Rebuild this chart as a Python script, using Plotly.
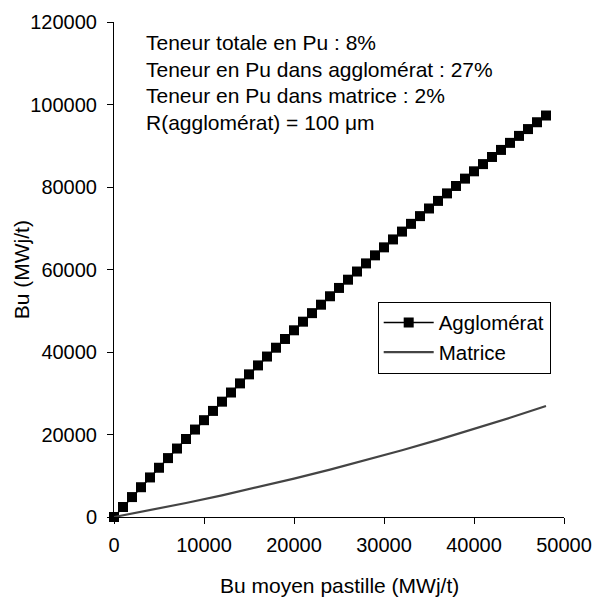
import plotly.graph_objects as go

# Data
bu_moyen_aggl = [0, 1000, 2000, 3000, 4000, 5000, 6000, 7000, 8000, 9000,
                 10000, 11000, 12000, 13000, 14000, 15000, 16000, 17000, 18000, 19000,
                 20000, 21000, 22000, 23000, 24000, 25000, 26000, 27000, 28000, 29000,
                 30000, 31000, 32000, 33000, 34000, 35000, 36000, 37000, 38000, 39000,
                 40000, 41000, 42000, 43000, 44000, 45000, 46000, 47000, 48000]
bu_agglomerat = [0, 2420, 4830, 7220, 9590, 11940, 14280, 16600, 18910, 21200,
                 23470, 25720, 27960, 30180, 32390, 34580, 36750, 38900, 41040, 43160,
                 45260, 47350, 49420, 51470, 53510, 55530, 57530, 59510, 61480, 63430,
                 65370, 67290, 69190, 71070, 72940, 74790, 76630, 78450, 80250, 82030,
                 83800, 85550, 87280, 88990, 90700, 92390, 94040, 95700, 97330]

bu_moyen_matr = [0, 4000, 8000, 12000, 16000, 20000, 24000, 28000, 32000,
                 36000, 40000, 44000, 48000]
bu_matrice = [0, 1640, 3390, 5250, 7220, 9300, 11490, 13780, 16190,
              18700, 21320, 24060, 26900]

x_ticks = [0, 10000, 20000, 30000, 40000, 50000]
y_ticks = [0, 20000, 40000, 60000, 80000, 100000, 120000]

x_title = "Bu moyen pastille (MWj/t)"
y_title = "Bu (MWj/t)"
info_lines = ["Teneur totale en Pu : 8%",
              "Teneur en Pu dans agglomérat : 27%",
              "Teneur en Pu dans matrice : 2%",
              "R(agglomérat) = 100 μm"]

FONT = "Liberation Sans, Arial, sans-serif"

fig = go.Figure()
fig.add_trace(go.Scatter(
    x=bu_moyen_aggl, y=bu_agglomerat, name="Agglomérat",
    mode="lines+markers",
    line=dict(color="black", width=1.5),
    marker=dict(symbol="square", size=10, color="black"),
    cliponaxis=False,
))
fig.add_trace(go.Scatter(
    x=bu_moyen_matr, y=bu_matrice, name="Matrice",
    mode="lines",
    line=dict(color="#444444", width=2.2),
    cliponaxis=False,
))

info_y = [0.959, 0.904, 0.851, 0.797]
for txt, yy in zip(info_lines, info_y):
    fig.add_annotation(
        text=txt, xref="paper", yref="paper", x=0.0667, y=yy,
        xanchor="left", yanchor="middle", showarrow=False,
        font=dict(family=FONT, size=21, color="black"),
    )

# axis titles
fig.add_annotation(
    text=x_title, xref="paper", yref="paper", x=0.5, y=-0.1384,
    xanchor="center", yanchor="middle", showarrow=False,
    font=dict(family=FONT, size=21, color="black"),
)
fig.add_annotation(
    text=y_title, xref="paper", yref="paper", x=-0.2051, y=0.5,
    xanchor="center", yanchor="middle", showarrow=False, textangle=-90,
    font=dict(family=FONT, size=21, color="black"),
)

axis_common = dict(
    showline=True, linecolor="black", linewidth=1,
    ticks="outside", ticklen=6, tickcolor="black", tickwidth=1,
    showgrid=False, zeroline=False, automargin=False,
    tickfont=dict(family=FONT, size=20, color="black"),
)

fig.update_layout(
    width=596, height=597,
    margin=dict(l=114, r=32, t=22, b=80),
    paper_bgcolor="white", plot_bgcolor="white",
    font=dict(family=FONT, color="black"),
    xaxis=dict(range=[0, 50000], tickvals=x_ticks,
               ticktext=[str(v) for v in x_ticks],
               ticklabelstandoff=4,
               **axis_common),
    yaxis=dict(range=[0, 120000], tickvals=y_ticks,
               ticktext=[str(v) for v in y_ticks],
               ticklabelstandoff=6,
               **axis_common),
    legend=dict(x=0.586, y=0.435, xanchor="left", yanchor="top",
                bordercolor="black", borderwidth=1, bgcolor="white",
                itemwidth=50,
                font=dict(family=FONT, size=20.5, color="black")),
    showlegend=True,
)

fig.write_html("out.html")
